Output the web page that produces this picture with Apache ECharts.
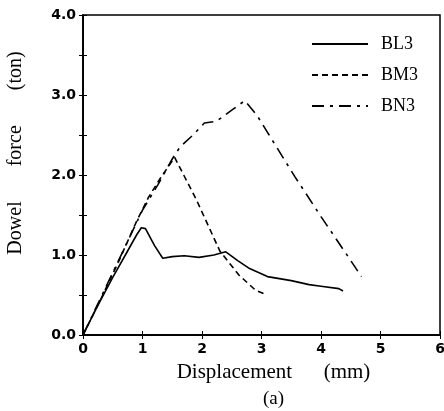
<!DOCTYPE html>
<html>
<head>
<meta charset="utf-8">
<script src="https://cdn.jsdelivr.net/npm/echarts@6/dist/echarts.min.js"></script>
<style>html,body{margin:0;padding:0;background:#fff}#c{width:444px;height:411px}</style>
</head>
<body>
<div id="c"></div>
<script>
var seriesNames = ['BL3', 'BM3', 'BN3'];
var xTicks = [0, 1, 2, 3, 4, 5, 6];
var yTicks = [0, 1, 2, 3, 4];
var bl3 = [[0,0],[0.25,0.37],[0.5,0.72],[0.75,1.05],[0.9,1.25],[0.98,1.34],[1.05,1.33],[1.2,1.12],[1.34,0.96],[1.5,0.98],[1.7,0.99],[1.95,0.97],[2.2,1.0],[2.4,1.04],[2.6,0.93],[2.8,0.83],[3.1,0.73],[3.5,0.68],[3.8,0.63],[4.0,0.61],[4.3,0.58],[4.37,0.55]];
var bm3 = [[0,0],[0.3,0.45],[0.6,0.92],[0.9,1.42],[1.1,1.72],[1.15,1.78],[1.3,1.96],[1.54,2.22],[1.9,1.7],[2.3,1.05],[2.62,0.75],[2.9,0.56],[3.09,0.5]];
var bn3 = [[0,0],[0.5,0.78],[1.0,1.56],[1.26,1.88],[1.5,2.2],[1.63,2.35],[1.85,2.5],[2.04,2.65],[2.24,2.67],[2.5,2.81],[2.72,2.93],[2.92,2.75],[3.56,1.98],[4.0,1.48],[4.4,1.04],[4.68,0.73]];

var chart = echarts.init(document.getElementById('c'));
var serif = 'Liberation Serif';
var sans = 'DejaVu Sans';
chart.setOption({
  animation: false,
  backgroundColor: '#fff',
  grid: {left: 83, top: 15, right: 4, bottom: 76, show: true, borderColor: '#000', borderWidth: 1.5,
    containLabel: false, outerBoundsMode: 'none'},
  title: {text: '(a)', left: 263, top: 390, padding: 0, textStyle: {fontFamily: serif, fontSize: 19, fontWeight: 'normal', color: '#000'}},
  legend: {
    orient: 'vertical', left: 311, top: 35, padding: 0, itemWidth: 56, itemHeight: 14, itemGap: 13,
    data: seriesNames,
    itemStyle: {opacity: 0},
    textStyle: {fontFamily: serif, fontSize: 18, color: '#000', padding: [0, 0, 0, 8]}
  },
  xAxis: [{
    type: 'value', min: xTicks[0], max: xTicks[xTicks.length - 1], interval: 1,
    name: 'Displacement      (mm)', nameLocation: 'middle', nameGap: 27,
    nameTextStyle: {fontFamily: serif, fontSize: 21, color: '#000', padding: [0, 0, 0, 24]},
    axisLine: {lineStyle: {color: '#000', width: 1.5}},
    axisTick: {inside: true, length: 4, lineStyle: {color: '#000'}},
    axisLabel: {margin: 7, fontFamily: sans, fontWeight: 'bold', fontSize: 14, color: '#000'},
    splitLine: {show: false}
  }, {
    type: 'value', position: 'top', min: xTicks[0], max: xTicks[xTicks.length - 1], interval: 1,
    axisLine: {lineStyle: {color: '#000', width: 1.5}},
    axisTick: {inside: true, length: 4, lineStyle: {color: '#000'}},
    axisLabel: {show: false}, splitLine: {show: false}
  }],
  yAxis: [{
    type: 'value', min: yTicks[0], max: yTicks[yTicks.length - 1], interval: 1,
    name: 'Dowel       force       (ton)', nameLocation: 'middle', nameGap: 57,
    nameTextStyle: {fontFamily: serif, fontSize: 20, color: '#000', padding: [0, 0, 0, 44]},
    axisLine: {lineStyle: {color: '#000', width: 1.5}},
    axisTick: {inside: true, length: 4, lineStyle: {color: '#000'}},
    minorTick: {show: true, splitNumber: 2, length: 4, lineStyle: {color: '#000'}},
    axisLabel: {margin: 7, fontFamily: sans, fontWeight: 'bold', fontSize: 14, color: '#000',
      formatter: function (v) { return v.toFixed(1); }},
    splitLine: {show: false}
  }, {
    type: 'value', position: 'right', min: yTicks[0], max: yTicks[yTicks.length - 1], interval: 1,
    axisLine: {lineStyle: {color: '#000', width: 1.5}},
    axisTick: {inside: true, length: 4, lineStyle: {color: '#000'}},
    minorTick: {show: true, splitNumber: 2, length: 4, lineStyle: {color: '#000'}},
    axisLabel: {show: false}, splitLine: {show: false}
  }],
  series: [
    {name: seriesNames[0], type: 'line', data: bl3, showSymbol: false, symbol: 'none', color: '#000',
      lineStyle: {color: '#000', width: 1.6, type: 'solid'}},
    {name: seriesNames[1], type: 'line', data: bm3, showSymbol: false, symbol: 'none', color: '#000',
      lineStyle: {color: '#000', width: 1.6, type: [6, 4]}},
    {name: seriesNames[2], type: 'line', data: bn3, showSymbol: false, symbol: 'none', color: '#000',
      lineStyle: {color: '#000', width: 1.6, type: [12, 6, 3, 6]}}
  ]
});
</script>
</body>
</html>
